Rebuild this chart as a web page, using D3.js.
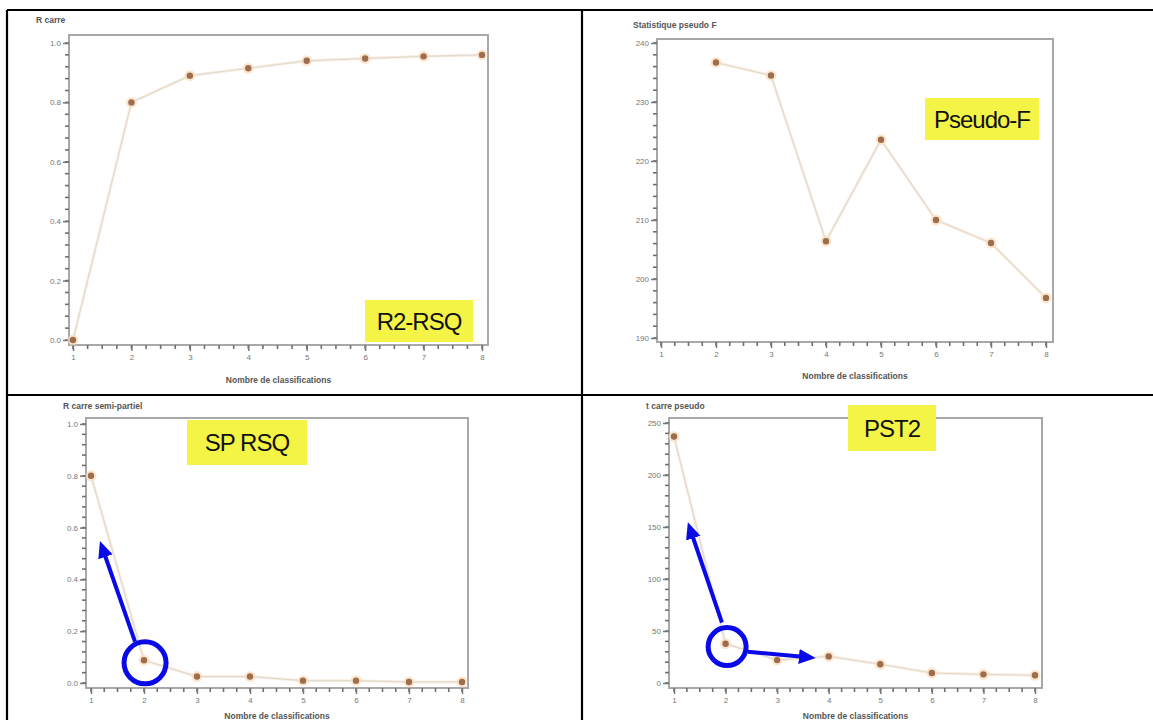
<!DOCTYPE html>
<html>
<head>
<meta charset="utf-8">
<script src="https://cdn.jsdelivr.net/npm/d3@7"></script>
<style>
  body { margin: 0; background: #fff; }
  text { font-family: "Liberation Sans", Arial, sans-serif; }
</style>
</head>
<body>
<div id="main_chart"></div>
<script>
// Data
const clusters = [1, 2, 3, 4, 5, 6, 7, 8];
const rsq = [0.0, 0.80, 0.89, 0.915, 0.94, 0.948, 0.955, 0.96];
const pseudoF = [null, 236.7, 234.5, 206.4, 223.6, 210.0, 206.1, 196.8];
const sprsq = [0.80, 0.088, 0.025, 0.025, 0.009, 0.009, 0.004, 0.004];
const pst2 = [237, 37.8, 22, 25.6, 18, 9.6, 8.3, 7.4];

const rsqTicks = [0, 0.2, 0.4, 0.6, 0.8, 1.0];
const pseudoFTicks = [190, 200, 210, 220, 230, 240];
const pst2Ticks = [0, 50, 100, 150, 200, 250];

const xTitle = "Nombre de classifications";

const width = 1153;
const height = 720;

const svg = d3.create("svg").attr("width", width).attr("height", height);

// arrow head
svg.append("defs").append("marker")
  .attr("id", "arrow")
  .attr("viewBox", "0 0 10 10")
  .attr("refX", 7).attr("refY", 5)
  .attr("markerWidth", 4.2).attr("markerHeight", 4.2)
  .attr("markerUnits", "strokeWidth")
  .attr("orient", "auto")
  .append("path")
  .attr("d", "M0,0.5 L10,5 L0,9.5 Z")
  .attr("fill", "#0a0ae6");

// table borders
const grid = svg.append("g").attr("stroke", "#000").attr("stroke-width", 2.2);
grid.append("line").attr("x1", 7).attr("x2", width).attr("y1", 10).attr("y2", 10);
grid.append("line").attr("x1", 7).attr("x2", width).attr("y1", 395).attr("y2", 395);
grid.append("line").attr("x1", 7).attr("x2", 7).attr("y1", 10).attr("y2", height);
grid.append("line").attr("x1", 582).attr("x2", 582).attr("y1", 10).attr("y2", height);

const panels = [
  { title: "R carre", values: rsq, ticks: rsqTicks, fmt: d3.format(".1f"), ydom: [0, 1],
    frame: [69, 35, 488, 345], xr: [73, 482], yr: [340, 43], titlePos: [36, 23], xlabY: 383,
    tag: { text: "R2-RSQ", box: [365, 300, 108, 42] } },
  { title: "Statistique pseudo F", values: pseudoF, ticks: pseudoFTicks, fmt: d3.format("d"), ydom: [190, 240],
    frame: [657, 39, 1053, 342], xr: [661, 1046], yr: [338, 43], titlePos: [633, 28], xlabY: 379,
    tag: { text: "Pseudo-F", box: [925, 98, 114, 42] } },
  { title: "R carre semi-partiel", values: sprsq, ticks: rsqTicks, fmt: d3.format(".1f"), ydom: [0, 1],
    frame: [86, 418, 468, 688], xr: [91, 462], yr: [683, 424], titlePos: [63, 409], xlabY: 719,
    tag: { text: "SP RSQ", box: [187, 420, 120, 45] },
    circle: { x: 2.02, y: 0.078, r: 21 },
    arrows: [[1.83, 0.16, 1.2, 0.53]] },
  { title: "t carre pseudo", values: pst2, ticks: pst2Ticks, fmt: d3.format("d"), ydom: [0, 250],
    frame: [669, 418, 1042, 688], xr: [674, 1035], yr: [683, 423], titlePos: [646, 409], xlabY: 719,
    tag: { text: "PST2", box: [848, 405, 88, 46] },
    circle: { x: 2.03, y: 35, r: 19 },
    arrows: [[1.93, 58, 1.3, 150], [2.43, 30, 3.65, 24.5]] }
];

panels.forEach((p) => {
  const g = svg.append("g");
  const x = d3.scaleLinear().domain([1, 8]).range(p.xr);
  const y = d3.scaleLinear().domain(p.ydom).range(p.yr);
  const [fx0, fy0, fx1, fy1] = p.frame;

  // plot frame
  g.append("rect")
    .attr("x", fx0).attr("y", fy0)
    .attr("width", fx1 - fx0).attr("height", fy1 - fy0)
    .attr("fill", "#fff")
    .attr("stroke", "#a8a8a8")
    .attr("stroke-width", 2);

  // minor ticks
  const step = p.ticks[1] - p.ticks[0];
  const minorY = d3.range(0, 26).map((i) => p.ydom[0] + i * step / 5)
    .filter((v) => v <= p.ydom[1] + 1e-9);
  g.append("g").selectAll("line").data(minorY).join("line")
    .attr("x1", fx0 - 4).attr("x2", fx0)
    .attr("y1", (d) => y(d)).attr("y2", (d) => y(d))
    .attr("stroke", "#6f6f6f").attr("stroke-width", 1.6);
  const minorX = d3.range(0, 29).map((i) => 1 + i * 0.25);
  g.append("g").selectAll("line").data(minorX).join("line")
    .attr("x1", (d) => x(d)).attr("x2", (d) => x(d))
    .attr("y1", fy1).attr("y2", fy1 + 4)
    .attr("stroke", "#6f6f6f").attr("stroke-width", 1.6);

  // y axis
  g.append("g")
    .attr("transform", `translate(${fx0},0)`)
    .call(d3.axisLeft(y).tickValues(p.ticks).tickFormat(p.fmt).tickSize(6).tickPadding(2));

  // x axis
  g.append("g")
    .attr("transform", `translate(0,${fy1})`)
    .call(d3.axisBottom(x).tickValues(clusters).tickFormat(d3.format("d")).tickSize(6).tickPadding(3));

  g.selectAll(".domain").remove();
  g.selectAll(".tick line").attr("stroke", "#777").attr("stroke-width", 1.5);
  g.selectAll(".tick text").attr("fill", "#777").attr("font-size", 8);

  // titles
  g.append("text")
    .attr("x", p.titlePos[0]).attr("y", p.titlePos[1])
    .attr("font-size", 8.5).attr("font-weight", "bold").attr("fill", "#555")
    .text(p.title);
  g.append("text")
    .attr("x", (fx0 + fx1) / 2).attr("y", p.xlabY)
    .attr("text-anchor", "middle")
    .attr("font-size", 8.5).attr("font-weight", "bold").attr("fill", "#555")
    .text(xTitle);

  // series
  const pts = clusters.map((c, i) => ({ c, v: p.values[i] })).filter((d) => d.v != null);
  const line = d3.line().x((d) => x(d.c)).y((d) => y(d.v));
  g.append("path")
    .attr("d", line(pts))
    .attr("fill", "none")
    .attr("stroke", "#fdeee0")
    .attr("stroke-width", 3);
  g.append("path")
    .attr("d", line(pts))
    .attr("fill", "none")
    .attr("stroke", "#dedbd3")
    .attr("stroke-width", 1.2);
  g.selectAll("circle.halo").data(pts).join("circle")
    .attr("cx", (d) => x(d.c)).attr("cy", (d) => y(d.v))
    .attr("r", 5.5).attr("fill", "#fcdcbc").attr("opacity", 0.7);
  g.selectAll("circle.dot").data(pts).join("circle")
    .attr("cx", (d) => x(d.c)).attr("cy", (d) => y(d.v))
    .attr("r", 3.2).attr("fill", "#9c6e4e");

  // yellow tag
  const [bx, by, bw, bh] = p.tag.box;
  g.append("rect")
    .attr("x", bx).attr("y", by).attr("width", bw).attr("height", bh)
    .attr("fill", "#f4f446");
  g.append("text")
    .attr("x", bx + bw / 2).attr("y", by + bh / 2 + 8.5)
    .attr("text-anchor", "middle")
    .attr("font-size", 24)
    .attr("letter-spacing", -1)
    .attr("fill", "#111")
    .text(p.tag.text);

  // blue annotations
  if (p.circle) {
    g.append("circle")
      .attr("cx", x(p.circle.x)).attr("cy", y(p.circle.y))
      .attr("r", p.circle.r)
      .attr("fill", "none").attr("stroke", "#0a0ae6").attr("stroke-width", 5);
  }
  (p.arrows || []).forEach((a) => {
    g.append("line")
      .attr("x1", x(a[0])).attr("y1", y(a[1]))
      .attr("x2", x(a[2])).attr("y2", y(a[3]))
      .attr("stroke", "#0a0ae6").attr("stroke-width", 4)
      .attr("marker-end", "url(#arrow)");
  });
});

document.getElementById("main_chart").append(svg.node());
</script>
</body>
</html>
